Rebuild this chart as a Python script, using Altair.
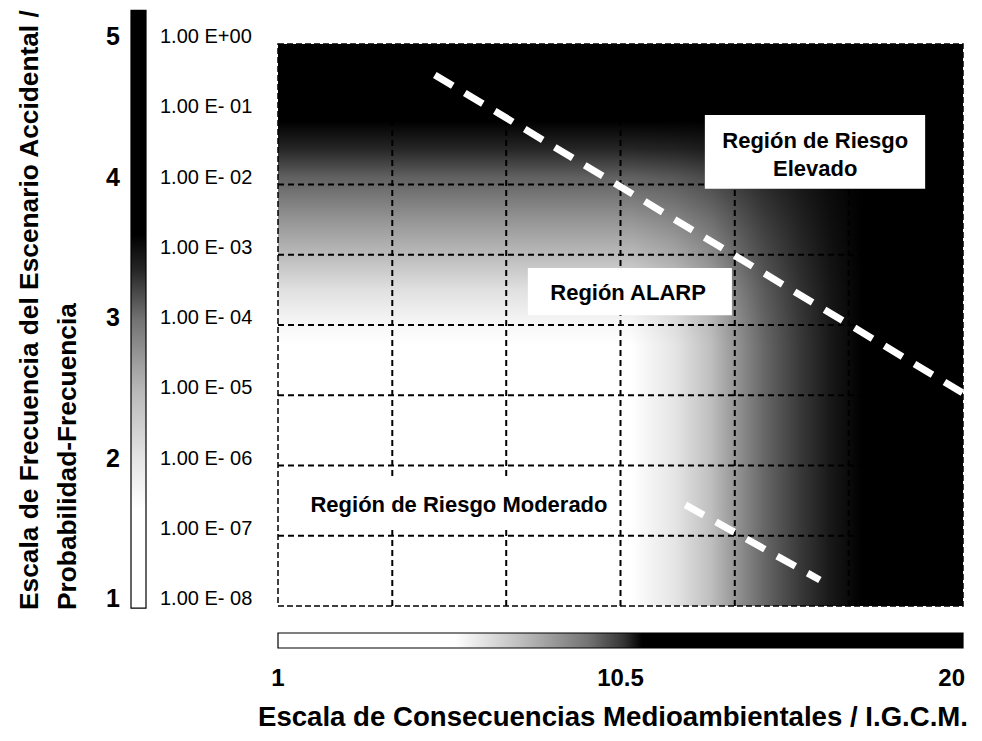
import altair as alt
import pandas as pd

FONT = "Liberation Sans"

# ---------------- data ----------------
C_RANGE = [1, 20]          # consequence scale (I.G.C.M.)
F_RANGE = [-8, 0]          # log10 of frequency

x_tick_values = [1, 10.5, 20]
x_tick_text = ["1", "10.5", "20"]

freq_level = [0, -1, -2, -3, -4, -5, -6, -7, -8]
freq_label = ["1.00 E+00", "1.00 E- 01", "1.00 E- 02", "1.00 E- 03", "1.00 E- 04",
              "1.00 E- 05", "1.00 E- 06", "1.00 E- 07", "1.00 E- 08"]
scale_level = [0, -2, -4, -6, -8]
scale_label = ["5", "4", "3", "2", "1"]

grid_c = [4.17, 7.33, 10.5, 13.67, 16.83]
grid_f = [-1, -2, -3, -4, -5, -6, -7]

bound_id = ["upper", "lower"]
bound_c1 = [5.35, 12.3]
bound_f1 = [-0.44, -6.56]
bound_c2 = [20.0, 16.03]
bound_f2 = [-4.97, -7.63]

region_line1 = ["Región de Riesgo", "Región ALARP", "Región de Riesgo Moderado"]
region_line2 = ["Elevado", "", ""]
region_c1 = [12.84, 7.93, 1.1]
region_c2 = [18.95, 13.59, 10.4]
region_f1 = [-2.06, -3.86, -6.88]
region_f2 = [-1.01, -3.19, -6.18]
region_tc = [15.9, 10.71, 6.02]
region_tf = [-1.38, -3.54, -6.56]
region_tf2 = [-1.78, -3.54, -6.56]

# shading readings (darkness: 0 = white, 1 = black)
vert_f = [0, -1.1, -1.5, -1.9, -2.5, -3.0, -3.5, -4.0, -4.3, -8]
vert_dark = [1, 1, 0.85, 0.62, 0.42, 0.27, 0.12, 0.03, 0, 0]
horiz_c = [1, 10.8, 12.0, 13.0, 13.7, 14.5, 15.5, 16.3, 17.2, 20]
horiz_dark = [0, 0, 0.1, 0.25, 0.42, 0.6, 0.78, 0.9, 1, 1]

vbar_f = [0.48, -2.72, -3.22, -3.93, -4.93, -5.92, -6.63, -8.03]
vbar_dark = [1, 1, 0.85, 0.55, 0.28, 0.1, 0, 0]
hbar_c = [1, 5.9, 7.7, 9.6, 10.6, 11.1, 20]
hbar_dark = [0, 0, 0.25, 0.55, 0.8, 1, 1]

X_TITLE = "Escala de Consecuencias Medioambientales / I.G.C.M."
Y_TITLE = ["Escala de Frecuencia del Escenario Accidental /", "Probabilidad-Frecuencia"]

# ---------------- helpers ----------------
X = alt.Scale(domain=C_RANGE, nice=False, zero=False)
Y = alt.Scale(domain=F_RANGE, nice=False, zero=False)


def grad(vals, darks, horizontal):
    lo, hi = vals[0], vals[-1]
    stops = [alt.GradientStop(offset=round((v - lo) / (hi - lo), 4),
                              color=f"rgba(0,0,0,{d})") for v, d in zip(vals, darks)]
    if horizontal:
        return alt.Gradient(gradient="linear", stops=stops, x1=0, x2=1, y1=0, y2=0)
    return alt.Gradient(gradient="linear", stops=stops, x1=0, x2=0, y1=0, y2=1)


def xq(f):
    return alt.X(f, type="quantitative", scale=X, axis=None)


def yq(f):
    return alt.Y(f, type="quantitative", scale=Y, axis=None)


def box_df(c1, c2, f1, f2):
    return pd.DataFrame({"c1": [c1], "c2": [c2], "f1": [f1], "f2": [f2]})


# ---------------- main plot ----------------
bg_v = alt.Chart(box_df(C_RANGE[0], C_RANGE[1], vert_f[-1], vert_f[0])).mark_rect(
    color=grad(vert_f, vert_dark, False)
).encode(x=xq("c1"), x2="c2", y=yq("f1"), y2="f2")

bg_h = alt.Chart(box_df(horiz_c[0], horiz_c[-1], F_RANGE[0], F_RANGE[1])).mark_rect(
    color=grad(horiz_c, horiz_dark, True)
).encode(x=xq("c1"), x2="c2", y=yq("f1"), y2="f2")

grid_v = alt.Chart(pd.DataFrame({"c": grid_c, "f1": F_RANGE[0], "f2": F_RANGE[1]})).mark_rule(
    color="black", strokeWidth=2, strokeDash=[6, 4]
).encode(x=xq("c"), y=yq("f1"), y2="f2")

grid_h = alt.Chart(pd.DataFrame({"f": grid_f, "c1": C_RANGE[0], "c2": C_RANGE[1]})).mark_rule(
    color="black", strokeWidth=2, strokeDash=[6, 4]
).encode(y=yq("f"), x=xq("c1"), x2="c2")

border = alt.Chart(box_df(C_RANGE[0], C_RANGE[1], F_RANGE[0], F_RANGE[1])).mark_rect(
    filled=False, color="black", strokeWidth=1.5, strokeDash=[6, 3]
).encode(x=xq("c1"), x2="c2", y=yq("f1"), y2="f2")

regions = pd.DataFrame({"line1": region_line1, "line2": region_line2,
                        "c1": region_c1, "c2": region_c2,
                        "f1": region_f1, "f2": region_f2,
                        "tc": region_tc, "tf": region_tf, "tf2": region_tf2})

boxes = alt.Chart(regions).mark_rect(color="white").encode(
    x=xq("c1"), x2="c2", y=yq("f1"), y2="f2")

label_style = dict(font=FONT, fontSize=22, fontWeight="bold", color="black",
                   align="center", baseline="middle")
region_labels1 = alt.Chart(regions).mark_text(**label_style).encode(
    x=xq("tc"), y=yq("tf"), text="line1:N")
region_labels2 = alt.Chart(regions).mark_text(**label_style).encode(
    x=xq("tc"), y=yq("tf2"), text="line2:N")

bounds = alt.Chart(pd.DataFrame({"id": bound_id, "c1": bound_c1, "c2": bound_c2,
                                 "f1": bound_f1, "f2": bound_f2})).mark_rule(
    color="white", strokeWidth=7, strokeDash=[21, 14], strokeCap="butt"
).encode(x=xq("c1"), x2="c2", y=yq("f1"), y2="f2")

# ---------------- left frequency scale ----------------
vbar = alt.Chart(pd.DataFrame({"f1": [vbar_f[-1]], "f2": [vbar_f[0]]})).mark_rect(
    color=grad(vbar_f, vbar_dark, False), stroke="black", strokeWidth=1.2
).encode(x=alt.value(-147), x2=alt.value(-132), y=yq("f1"), y2="f2")

freq_text = alt.Chart(pd.DataFrame({"f": freq_level, "label": freq_label})).mark_text(
    font=FONT, fontSize=20, color="black", align="left", baseline="middle", dy=-7
).encode(x=alt.value(-118), y=yq("f"), text="label:N")

num_text = alt.Chart(pd.DataFrame({"f": scale_level, "label": scale_label})).mark_text(
    font=FONT, fontSize=25, fontWeight="bold", color="black", align="right",
    baseline="middle", dy=-7
).encode(x=alt.value(-158), y=yq("f"), text="label:N")

ytitle1 = alt.Chart(pd.DataFrame({"t": [Y_TITLE[0]]})).mark_text(
    font=FONT, fontSize=26.3, fontWeight="bold", color="black", angle=270,
    align="left", baseline="middle"
).encode(x=alt.value(-248), y=alt.value(566), text="t:N")

ytitle2 = alt.Chart(pd.DataFrame({"t": [Y_TITLE[1]]})).mark_text(
    font=FONT, fontSize=26.3, fontWeight="bold", color="black", angle=270,
    align="left", baseline="middle"
).encode(x=alt.value(-210), y=alt.value(566), text="t:N")

# ---------------- bottom consequence scale ----------------
hbar = alt.Chart(pd.DataFrame({"c1": [hbar_c[0]], "c2": [hbar_c[-1]]})).mark_rect(
    color=grad(hbar_c, hbar_dark, True), stroke="black", strokeWidth=1.2
).encode(x=xq("c1"), x2="c2", y=alt.value(589), y2=alt.value(604))

ticks_df = pd.DataFrame({"c": x_tick_values, "label": x_tick_text})
xticks_c = alt.Chart(ticks_df.iloc[:-1].reset_index(drop=True)).mark_text(
    font=FONT, fontSize=24, fontWeight="bold", color="black", align="center",
    baseline="middle"
).encode(x=xq("c"), y=alt.value(635), text="label:N")
xticks_r = alt.Chart(ticks_df.iloc[-1:].reset_index(drop=True)).mark_text(
    font=FONT, fontSize=24, fontWeight="bold", color="black", align="right",
    baseline="middle", dx=2
).encode(x=xq("c"), y=alt.value(635), text="label:N")

xtitle = alt.Chart(pd.DataFrame({"t": [X_TITLE]})).mark_text(
    font=FONT, fontSize=27.6, fontWeight="bold", color="black", align="center",
    baseline="middle"
).encode(x=alt.value(335), y=alt.value(674), text="t:N")

chart = alt.layer(
    bg_v, bg_h, grid_v, grid_h, border, boxes, bounds,
    region_labels1, region_labels2,
    vbar, freq_text, num_text, ytitle1, ytitle2,
    hbar, xticks_c, xticks_r, xtitle,
).properties(
    width=685, height=562,
    autosize=alt.AutoSizeParams(type="none"),
    padding={"left": 270, "top": 36, "right": 11, "bottom": 127},
    background="white",
).configure_view(stroke=None)

chart.save("out.html", embed_options={"renderer": "svg", "actions": False})
